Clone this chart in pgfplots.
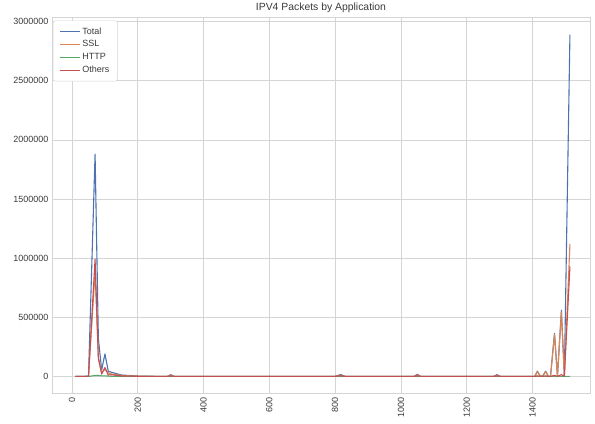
\documentclass[border=0pt]{standalone}
\usepackage{pgfplots}
\usepackage{pgfplotstable}
\usepackage{fontspec}
\setmainfont{Liberation Sans}
\pgfplotsset{compat=1.18}
\definecolor{cTotal}{HTML}{4C72B0}
\definecolor{cSSL}{HTML}{DD8452}
\definecolor{cHTTP}{HTML}{55A868}
\definecolor{cOthers}{HTML}{C44E52}
\definecolor{gridc}{HTML}{D5D5D5}
\definecolor{txt}{HTML}{3A3A3A}
\pgfplotstableread{
x total ssl http others
10 0 0 0 0
30 0 0 0 0
50 2000 1000 0 1000
70 1880000 880000 8000 992000
80 320000 160000 8000 152000
90 55000 30000 5000 20000
100 190000 60000 5000 75000
110 45000 30000 3000 12000
120 35000 20000 1000 14000
150 12000 8000 0 4000
200 3000 2000 0 1000
250 1000 500 0 500
290 1000 500 0 500
300 15000 10000 0 5000
310 1000 500 0 500
400 800 400 0 400
500 500 300 0 200
600 500 300 0 200
700 500 300 0 200
800 800 400 0 400
817 16000 10000 0 6000
830 800 400 0 400
900 500 300 0 200
1000 500 300 0 200
1040 800 400 0 400
1050 18000 12000 0 6000
1060 800 400 0 400
1150 500 300 0 200
1250 500 300 0 200
1282 800 400 0 400
1292 15000 10000 0 5000
1302 800 400 0 400
1350 500 300 0 200
1400 1000 500 0 500
1407 1000 500 0 500
1415 45000 40000 0 5000
1423 5000 4000 0 1000
1431 2000 1500 0 500
1440 45000 40000 0 5000
1448 3000 2500 0 500
1455 3000 2500 0 500
1467 364000 355000 0 9000
1476 2000 1500 0 500
1488 560000 545000 0 15000
1497 2000 1500 0 500
1514 2890000 1120000 0 930000
}\datatable
\begin{document}
\color{txt}%
\begin{tikzpicture}
\begin{axis}[
  at={(0,0)}, anchor=south west,
  scale only axis,
  width=538bp, height=376bp,
  xmin=-61, xmax=1575,
  ymin=-144500, ymax=3034500,
  xtick={0,200,...,1400},
  ytick={0,500000,...,3000000},
  scaled y ticks=false,
  /pgf/number format/fixed,
  /pgf/number format/1000 sep={},
  /pgf/number format/assume math mode=true,
  xticklabel style={rotate=90, anchor=east, font=\fontsize{9bp}{10bp}\selectfont},
  yticklabel style={font=\fontsize{9bp}{10bp}\selectfont},
  major tick length=0pt,
  grid=major,
  major grid style={gridc, line width=0.7bp},
  axis line style={gridc, line width=0.8bp},
  title={IPV4 Packets by Application},
  title style={font=\fontsize{10.4bp}{12bp}\selectfont, yshift=-5bp},
  legend style={at={(rel axis cs:0.002,0.992)}, anchor=north west, draw=gridc, fill=white, rounded corners=1.5bp,
    font=\fontsize{9bp}{10.5bp}\selectfont, row sep=1bp, inner xsep=6bp, inner ysep=5bp},
  legend cell align=left,
  legend image code/.code={\draw[#1] (0bp,0bp) -- (20bp,0bp);},
  every axis plot/.append style={line width=1.1bp, line join=round},
]
\addplot[color=cTotal] table[x=x, y=total] {\datatable};
\addlegendentry{Total}
\addplot[color=cSSL] table[x=x, y=ssl] {\datatable};
\addlegendentry{SSL}
\addplot[color=cHTTP] table[x=x, y=http] {\datatable};
\addlegendentry{HTTP}
\addplot[color=cOthers] table[x=x, y=others] {\datatable};
\addlegendentry{Others}
\end{axis}
\path[use as bounding box] (-52bp,-30bp) rectangle (543bp,393bp);
\end{tikzpicture}
\end{document}
